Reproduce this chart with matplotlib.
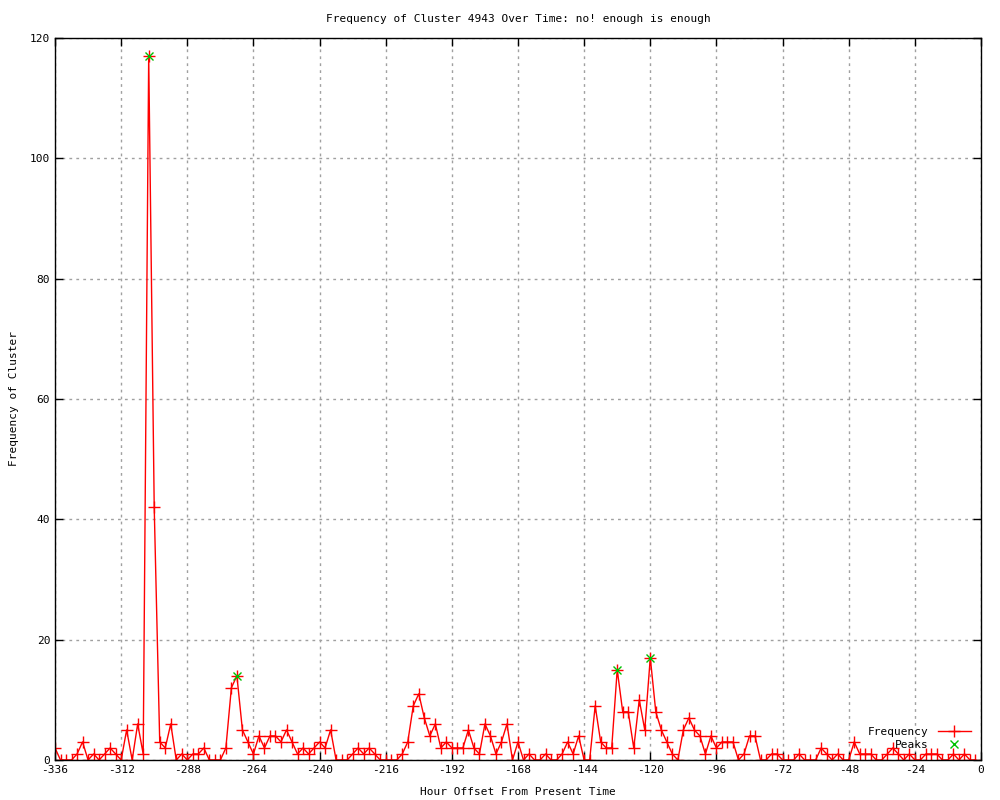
import matplotlib
matplotlib.use("Agg")
import matplotlib.pyplot as plt
import numpy as np

# hour offsets, every 2 hours
hours = list(range(-336, 0, 2))
freq = [2, 0, 0, 0, 1, 3, 0, 1, 0, 1, 2, 1, 0, 5, 0, 6, 1, 117, 42, 3,
        2, 6, 0, 1, 0, 1, 1, 2, 0, 0, 0, 2, 12, 14, 5, 3, 1, 4, 2, 4,
        4, 3, 5, 3, 1, 2, 1, 2, 3, 2, 5, 0, 0, 0, 1, 2, 1, 2, 1, 0,
        0, 0, 0, 1, 3, 9, 11, 7, 4, 6, 2, 3, 2, 2, 2, 5, 2, 1, 6, 4,
        1, 3, 6, 0, 3, 0, 1, 0, 0, 1, 0, 0, 1, 3, 1, 4, 0, 0, 9, 3,
        2, 2, 15, 8, 8, 2, 10, 5, 17, 8, 5, 3, 1, 0, 5, 7, 5, 4, 1, 4,
        2, 3, 3, 3, 0, 1, 4, 4, 0, 0, 1, 1, 0, 0, 0, 1, 0, 0, 0, 2,
        1, 0, 1, 0, 0, 3, 1, 1, 1, 0, 0, 1, 2, 1, 0, 1, 0, 0, 1, 1,
        1, 0, 0, 1, 0, 1, 0, 0]
peak_hours = [-302, -270, -132, -120]
peak_vals = [117, 14, 15, 17]

xticks = list(range(-336, 1, 24))
yticks = list(range(0, 121, 20))

plt.rcParams['font.family'] = ['DejaVu Sans Mono']
plt.rcParams['font.size'] = 8
plt.rcParams['axes.unicode_minus'] = False

fig = plt.figure(figsize=(10, 8), dpi=100)
ax = fig.add_axes([0.055, 0.05, 0.926, 0.9025])

ax.plot(hours, freq, color='red', lw=1, marker='+', ms=8, mew=1, label='Frequency')
ax.plot(peak_hours, peak_vals, ls='none', color='#00c000', marker='x', ms=6, mew=1, label='Peaks')

ax.set_xlim(-336, 0)
ax.set_ylim(0, 120)
ax.set_xticks(xticks)
ax.set_yticks(yticks)
ax.tick_params(direction='in', length=6, top=True, right=True, width=1)
ax.grid(True, color='#a0a0a0', ls=(0, (2, 3)), lw=1)
for s in ax.spines.values():
    s.set_linewidth(1)

ax.set_title('Frequency of Cluster 4943 Over Time: no! enough is enough', fontsize=8, y=1.011)
ax.set_xlabel('Hour Offset From Present Time')
ax.set_ylabel('Frequency of Cluster')
ax.xaxis.set_label_coords(0.5, -0.037)
ax.yaxis.set_label_coords(-0.039, 0.5)

leg = ax.legend(loc='lower right', frameon=False, handlelength=3, markerfirst=False,
                borderaxespad=0.5, labelspacing=0.3, handletextpad=0.8)

fig.savefig('out.png')
